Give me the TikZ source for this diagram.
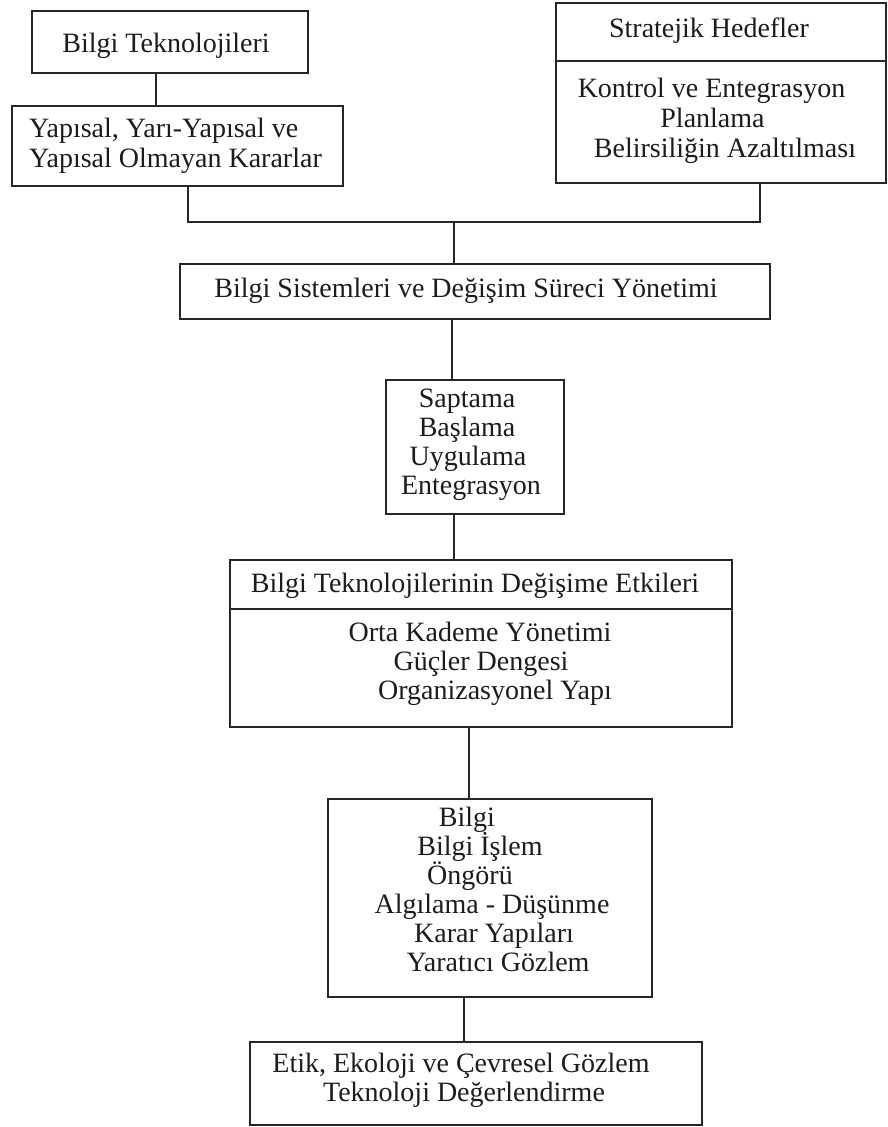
\documentclass[tikz,border=0pt]{standalone}
\usepackage{fontspec}
\setmainfont{Liberation Serif}
\definecolor{linec}{HTML}{262626}
\definecolor{txtc}{HTML}{1C1C1C}
\begin{document}
\begin{tikzpicture}[x=1pt,y=-1pt,
  box/.style={draw=linec, line width=1.6pt, rectangle, inner sep=0pt, outer sep=0pt, anchor=north west},
  lbl/.style={anchor=base, inner sep=0pt, font=\fontsize{28}{29}\selectfont, text=txtc},
  lbll/.style={lbl, anchor=base west},
  conn/.style={draw=linec, line width=1.6pt}]
\useasboundingbox[fill=white] (0,0) rectangle (888,1127);

% boxes
\node[box, minimum width=276pt, minimum height=62pt]  (bt) at (32,11) {};
\node[box, minimum width=331pt, minimum height=80pt]  (ys) at (12,106) {};
\node[box, minimum width=330pt, minimum height=180pt] (sh) at (556,3) {};
\node[box, minimum width=590pt, minimum height=55pt]  (bs) at (180,264) {};
\node[box, minimum width=178pt, minimum height=134pt] (sp) at (386,380) {};
\node[box, minimum width=502pt, minimum height=167pt] (bd) at (230,560) {};
\node[box, minimum width=324pt, minimum height=198pt] (bb) at (328,799) {};
\node[box, minimum width=452pt, minimum height=83pt]  (ee) at (250,1042) {};

% dividers
\coordinate (d1) at (0,61);
\coordinate (d2) at (0,609);
\draw[conn] (sh.west |- d1) -- (sh.east |- d1);
\draw[conn] (bd.west |- d2) -- (bd.east |- d2);

% texts
\node[lbl] (t1) at (166,52) {Bilgi Teknolojileri};
\node[lbll] (t2) at (29,137) {Yapısal, Yarı-Yapısal ve};
\node[lbll] (t3) at (29,167) {Yapısal Olmayan Kararlar};
\node[lbl] (t4) at (709,37) {Stratejik Hedefler};
\node[lbl] (t5) at (711.5,97) {Kontrol ve Entegrasyon};
\node[lbl] (t6) at (712.5,127) {Planlama};
\node[lbl] (t7) at (725,157) {Belirsiliğin Azaltılması};
\node[lbl] (t8) at (466,297) {Bilgi Sistemleri ve Değişim Süreci Yönetimi};
\node[lbl] (t9) at (467,407) {Saptama};
\node[lbl] (t10) at (467,436) {Başlama};
\node[lbl] (t11) at (468,465) {Uygulama};
\node[lbl] (t12) at (471,494) {Entegrasyon};
\node[lbl] (t13) at (475,592) {Bilgi Teknolojilerinin Değişime Etkileri};
\node[lbl] (t14) at (480,641) {Orta Kademe Yönetimi};
\node[lbl] (t15) at (481,670) {Güçler Dengesi};
\node[lbl] (t16) at (495,699) {Organizasyonel Yapı};
\node[lbl] (t17) at (467,826) {Bilgi};
\node[lbl] (t18) at (480,855) {Bilgi İşlem};
\node[lbl] (t19) at (470,884) {Öngörü};
\node[lbl] (t20) at (492,913) {Algılama - Düşünme};
\node[lbl] (t21) at (494,942) {Karar Yapıları};
\node[lbl] (t22) at (498,971) {Yaratıcı Gözlem};
\node[lbl] (t23) at (461,1072) {Etik, Ekoloji ve Çevresel Gözlem};
\node[lbl] (t24) at (464,1101) {Teknoloji Değerlendirme};

% connectors
\coordinate (jl) at (188,222);
\coordinate (jr) at (760,222);
\coordinate (jm) at (454,222);
\coordinate (v1) at (156,0);
\coordinate (v2) at (452,0);
\coordinate (v3) at (454,0);
\coordinate (v4) at (469,0);
\coordinate (v5) at (464,0);
\draw[conn] (bt.south -| v1) -- (ys.north -| v1);
\draw[conn] (ys.south -| jl) -- (jl) -- (jr) -- (sh.south -| jr);
\draw[conn] (jm) -- (bs.north -| jm);
\draw[conn] (bs.south -| v2) -- (sp.north -| v2);
\draw[conn] (sp.south -| v3) -- (bd.north -| v3);
\draw[conn] (bd.south -| v4) -- (bb.north -| v4);
\draw[conn] (bb.south -| v5) -- (ee.north -| v5);
\end{tikzpicture}
\end{document}
